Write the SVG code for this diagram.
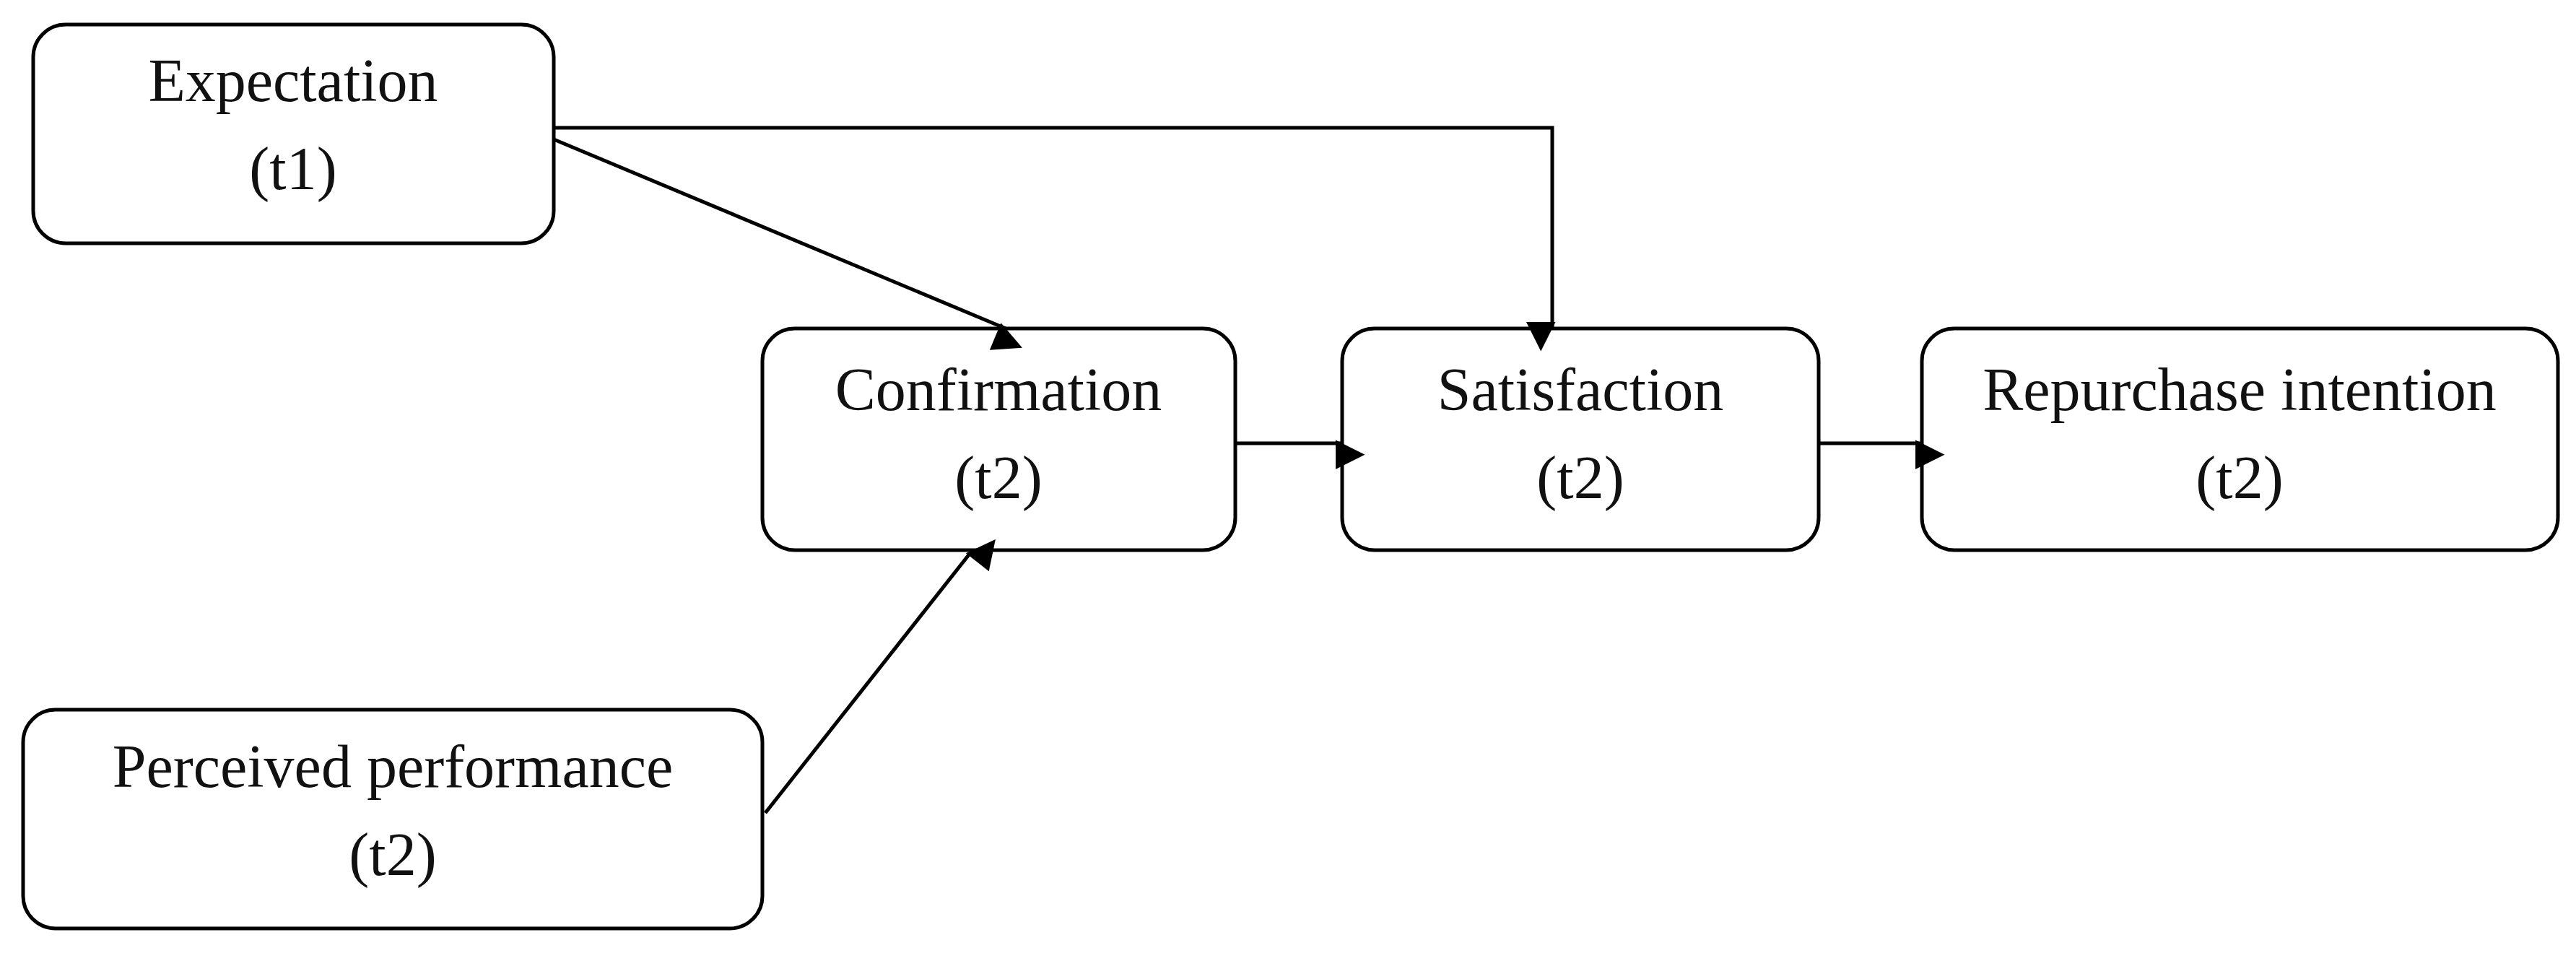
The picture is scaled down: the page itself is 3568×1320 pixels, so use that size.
<svg xmlns="http://www.w3.org/2000/svg" width="3568" height="1320" viewBox="0 0 3568 1320">
<style>
.box{fill:#fff;stroke:#000;stroke-width:5}
.t{font-family:"Liberation Serif",serif;font-size:84px;text-anchor:middle;fill:#111}
.c{fill:none;stroke:#000;stroke-width:5}
</style>
<defs><marker id="a" viewBox="0 0 10 10" refX="10" refY="5" markerWidth="9" markerHeight="9" markerUnits="userSpaceOnUse" orient="auto" style="overflow:visible"><path d="M0,0L10,5L0,10z" transform="scale(4.5)" fill="#000"/></marker></defs>
<rect width="3568" height="1320" fill="#fff"/>
<g id="expectation"><rect class="box" x="46" y="34" width="721" height="303" rx="45"/><text class="t" x="406" y="140">Expectation</text><text class="t" x="406" y="262">(t1)</text></g>
<g id="confirmation"><rect class="box" x="1056" y="455" width="655" height="307" rx="45"/><text class="t" x="1383" y="568">Confirmation</text><text class="t" x="1383" y="690">(t2)</text></g>
<g id="satisfaction"><rect class="box" x="1859" y="455" width="660" height="307" rx="45"/><text class="t" x="2189" y="568">Satisfaction</text><text class="t" x="2189" y="690">(t2)</text></g>
<g id="repurchase"><rect class="box" x="2662" y="455" width="881" height="307" rx="45"/><text class="t" x="3102" y="568">Repurchase intention</text><text class="t" x="3102" y="690">(t2)</text></g>
<g id="perceived"><rect class="box" x="32" y="983" width="1024" height="303" rx="45"/><text class="t" x="544" y="1090">Perceived performance</text><text class="t" x="544" y="1212">(t2)</text></g>
<g id="connectors">
<path class="c" d="M767,177H2150V455" marker-end="url(#a)"/>
<path class="c" d="M767,193L1393,455" marker-end="url(#a)"/>
<path class="c" d="M1060,1126L1347,762" marker-end="url(#a)"/>
<path class="c" d="M1711,614H1859" marker-end="url(#a)"/>
<path class="c" d="M2519,614H2662" marker-end="url(#a)"/>
</g>
</svg>
